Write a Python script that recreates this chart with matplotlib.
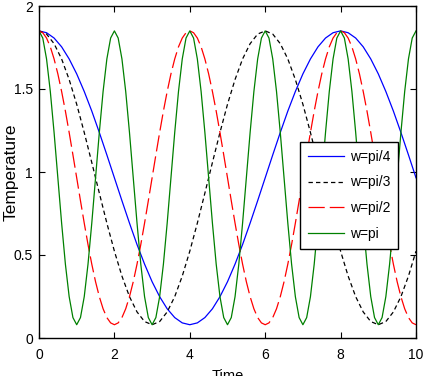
import matplotlib
matplotlib.use("Agg")
from matplotlib import pyplot as plt
import numpy as np

# values
t_fast = np.round(np.arange(0, 10.01, 0.1), 2)
t_slow = np.round(np.arange(0, 10.01, 0.2), 2)

temp_pi4 = [1.850, 1.839, 1.807, 1.754, 1.681, 1.591, 1.485, 1.367, 1.238, 1.103,
            0.965, 0.827, 0.692, 0.563, 0.445, 0.339, 0.249, 0.176, 0.123, 0.091,
            0.080, 0.091, 0.123, 0.176, 0.249, 0.339, 0.445, 0.563, 0.692, 0.827,
            0.965, 1.103, 1.238, 1.367, 1.485, 1.591, 1.681, 1.754, 1.807, 1.839,
            1.850, 1.839, 1.807, 1.754, 1.681, 1.591, 1.485, 1.367, 1.238, 1.103,
            0.965]

temp_pi3 = [1.850, 1.831, 1.773, 1.681, 1.557, 1.408, 1.238, 1.057, 0.873, 0.692,
            0.523, 0.373, 0.249, 0.157, 0.099, 0.080, 0.099, 0.157, 0.249, 0.373,
            0.523, 0.692, 0.873, 1.057, 1.238, 1.408, 1.557, 1.681, 1.773, 1.831,
            1.850, 1.831, 1.773, 1.681, 1.557, 1.408, 1.238, 1.057, 0.873, 0.692,
            0.523, 0.373, 0.249, 0.157, 0.099, 0.080, 0.099, 0.157, 0.249, 0.373,
            0.523]

temp_pi2 = [1.850, 1.839, 1.807, 1.754, 1.681, 1.591, 1.485, 1.367, 1.238, 1.103,
            0.965, 0.827, 0.692, 0.563, 0.445, 0.339, 0.249, 0.176, 0.123, 0.091,
            0.080, 0.091, 0.123, 0.176, 0.249, 0.339, 0.445, 0.563, 0.692, 0.827,
            0.965, 1.103, 1.238, 1.367, 1.485, 1.591, 1.681, 1.754, 1.807, 1.839,
            1.850, 1.839, 1.807, 1.754, 1.681, 1.591, 1.485, 1.367, 1.238, 1.103,
            0.965, 0.827, 0.692, 0.563, 0.445, 0.339, 0.249, 0.176, 0.123, 0.091,
            0.080, 0.091, 0.123, 0.176, 0.249, 0.339, 0.445, 0.563, 0.692, 0.827,
            0.965, 1.103, 1.238, 1.367, 1.485, 1.591, 1.681, 1.754, 1.807, 1.839,
            1.850, 1.839, 1.807, 1.754, 1.681, 1.591, 1.485, 1.367, 1.238, 1.103,
            0.965, 0.827, 0.692, 0.563, 0.445, 0.339, 0.249, 0.176, 0.123, 0.091,
            0.080]

temp_pi = [1.850, 1.807, 1.681, 1.485, 1.238, 0.965, 0.692, 0.445, 0.249, 0.123,
           0.080, 0.123, 0.249, 0.445, 0.692, 0.965, 1.238, 1.485, 1.681, 1.807,
           1.850, 1.807, 1.681, 1.485, 1.238, 0.965, 0.692, 0.445, 0.249, 0.123,
           0.080, 0.123, 0.249, 0.445, 0.692, 0.965, 1.238, 1.485, 1.681, 1.807,
           1.850, 1.807, 1.681, 1.485, 1.238, 0.965, 0.692, 0.445, 0.249, 0.123,
           0.080, 0.123, 0.249, 0.445, 0.692, 0.965, 1.238, 1.485, 1.681, 1.807,
           1.850, 1.807, 1.681, 1.485, 1.238, 0.965, 0.692, 0.445, 0.249, 0.123,
           0.080, 0.123, 0.249, 0.445, 0.692, 0.965, 1.238, 1.485, 1.681, 1.807,
           1.850, 1.807, 1.681, 1.485, 1.238, 0.965, 0.692, 0.445, 0.249, 0.123,
           0.080, 0.123, 0.249, 0.445, 0.692, 0.965, 1.238, 1.485, 1.681, 1.807,
           1.850]

labels = ["w=pi/4", "w=pi/3", "w=pi/2", "w=pi"]
xticks = [0, 2, 4, 6, 8, 10]
yticks = [0, 0.5, 1, 1.5, 2]
ytick_labels = ["0", "0.5", "1", "1.5", "2"]

plt.rcParams["font.family"] = ["Liberation Sans", "DejaVu Sans"]

fig = plt.figure(figsize=(4.24, 3.76), dpi=100)
ax = fig.add_axes([39/424, 1 - 338/376, (416 - 39)/424, (338 - 6)/376])

ax.plot(t_slow, temp_pi4, color="blue", lw=0.9, label=labels[0])
ax.plot(t_slow, temp_pi3, color="black", lw=0.9, dashes=(3.5, 2.5), label=labels[1])
ax.plot(t_fast, temp_pi2, color="red", lw=0.9, dashes=(13, 4), label=labels[2])
ax.plot(t_fast, temp_pi, color="green", lw=0.9, label=labels[3])

ax.set_xlim(0, 10)
ax.set_ylim(0, 2)
ax.set_xticks(xticks)
ax.set_yticks(yticks)
ax.set_yticklabels(ytick_labels)
ax.tick_params(direction="in", length=4.3, top=True, right=True, labelsize=10)
ax.tick_params(axis="x", pad=7)
ax.tick_params(axis="y", pad=4.3)
for s in ax.spines.values():
    s.set_linewidth(1.0)

ax.set_ylabel("Temperature", fontsize=12.5, va="center")
ax.yaxis.set_label_coords(-28/377, 0.5)
ax.set_xlabel("Time", fontsize=10.5, labelpad=5)

leg = ax.legend(loc="upper left", bbox_to_anchor=(300/424, 1 - 142/376),
                bbox_transform=fig.transFigure, fancybox=False, framealpha=1,
                edgecolor="black", fontsize=10, handlelength=2.6,
                handletextpad=0.45, borderpad=0.55, labelspacing=0.85,
                borderaxespad=0)
leg.get_frame().set_linewidth(1.0)

fig.savefig("out.png", dpi=100)
